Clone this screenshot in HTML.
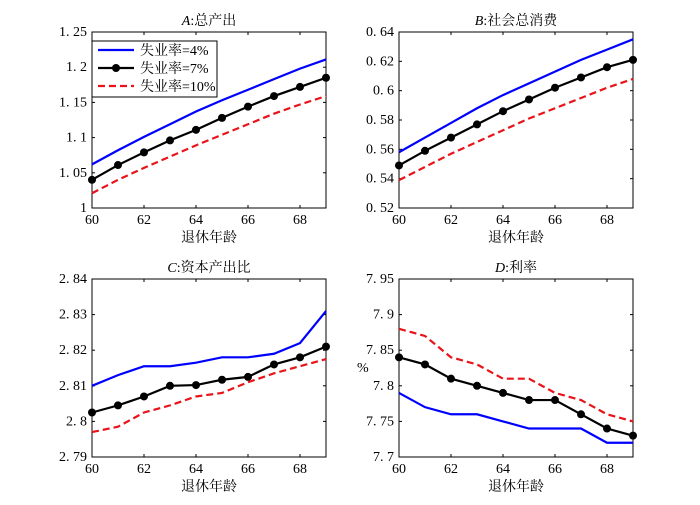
<!DOCTYPE html>
<html><head><meta charset="utf-8"><style>
body{margin:0;background:#fff}
svg text{font-family:"Liberation Serif","Noto Serif CJK SC",serif;font-size:14px;fill:#000}
</style></head><body>
<svg id="chart" width="700" height="500" xmlns="http://www.w3.org/2000/svg"></svg>
<script>
const ages=[60,61,62,63,64,65,66,67,68,69];
const xTicks=[60,62,64,66,68];
const aBlue=[1.062,1.082,1.101,1.119,1.137,1.153,1.168,1.183,1.198,1.211];
const aBlack=[1.040,1.061,1.079,1.096,1.111,1.128,1.144,1.159,1.172,1.185];
const aRed=[1.021,1.040,1.057,1.073,1.089,1.104,1.119,1.134,1.147,1.159];
const aTicks=["1","1.05","1.1","1.15","1.2","1.25"];
const bBlue=[0.558,0.568,0.578,0.588,0.597,0.605,0.613,0.621,0.628,0.635];
const bBlack=[0.549,0.559,0.568,0.577,0.586,0.594,0.602,0.609,0.616,0.621];
const bRed=[0.539,0.548,0.557,0.565,0.573,0.581,0.588,0.595,0.602,0.608];
const bTicks=["0.52","0.54","0.56","0.58","0.6","0.62","0.64"];
const cBlue=[2.810,2.813,2.8155,2.8155,2.8165,2.818,2.818,2.819,2.822,2.831];
const cBlack=[2.8025,2.8045,2.807,2.810,2.8102,2.8117,2.8125,2.816,2.818,2.821];
const cRed=[2.797,2.7985,2.8025,2.8045,2.807,2.808,2.811,2.8135,2.8155,2.8175];
const cTicks=["2.79","2.8","2.81","2.82","2.83","2.84"];
const dBlue=[7.79,7.77,7.76,7.76,7.75,7.74,7.74,7.74,7.72,7.72];
const dBlack=[7.84,7.83,7.81,7.80,7.79,7.78,7.78,7.76,7.74,7.73];
const dRed=[7.88,7.87,7.84,7.83,7.81,7.81,7.79,7.78,7.76,7.75];
const dTicks=["7.7","7.75","7.8","7.85","7.9","7.95"];
const NS="http://www.w3.org/2000/svg";
const svg=document.getElementById('chart');
function mk(t,a,p){const e=document.createElementNS(NS,t);for(const k in a)e.setAttribute(k,a[k]);(p||svg).appendChild(e);return e;}
function fmt(s){return s.replace('.', '. ');}
function panel(id,L,T,R,B,ticks,blue,black,red,title,ylab){
  const g=mk('g',{});
  
  
  const y0=parseFloat(ticks[0]),y1=parseFloat(ticks[ticks.length-1]);
  const xs=v=>L+(v-60)/9*(R-L);
  const ys=v=>B-(v-y0)/(y1-y0)*(B-T);
  mk('rect',{x:L,y:T,width:R-L,height:B-T,fill:'#fff',stroke:'#000','stroke-width':1},g);
  ticks.forEach(t=>{const y=ys(parseFloat(t));
    mk('line',{x1:L,x2:L+3,y1:y,y2:y,stroke:'#000'},g);mk('line',{x1:R,x2:R-3,y1:y,y2:y,stroke:'#000'},g);
    const tx=mk('text',{x:L-5,y:y+4,'text-anchor':'end'},g);tx.textContent=fmt(t);
    });
  xTicks.forEach(t=>{const x=xs(t);
    mk('line',{x1:x,x2:x,y1:B,y2:B-3,stroke:'#000'},g);mk('line',{x1:x,x2:x,y1:T,y2:T+3,stroke:'#000'},g);
    const tx=mk('text',{x:x,y:B+16,'text-anchor':'middle'},g);tx.textContent=t;
    });
  const xl=mk('text',{x:(L+R)/2,y:B+34,'text-anchor':'middle'},g);xl.textContent='退休年龄';
  
  const tl=mk('text',{x:(L+R)/2,y:T-7,'text-anchor':'middle'},g);
  tl.innerHTML='<tspan font-style="italic">'+title[0]+'</tspan>:'+title[1];
  
  if(ylab){const yl=mk('text',{x:L-42,y:(T+B)/2+4},g);yl.textContent=ylab;
    }
  const pts=a=>a.map((v,i)=>xs(ages[i])+','+ys(v)).join(' ');
  const l1=mk('polyline',{points:pts(blue),fill:'none',stroke:'#0000ff','stroke-width':2.2},g);
  
  const l3=mk('polyline',{points:pts(red),fill:'none',stroke:'#e8141a','stroke-width':2.2,'stroke-dasharray':'7,4'},g);
  
  const l2=mk('polyline',{points:pts(black),fill:'none',stroke:'#000','stroke-width':2.2},g);
  
  black.forEach((v,i)=>{const c=mk('circle',{cx:xs(ages[i]),cy:ys(v),r:4,fill:'#000'},g);
    });
  return g;
}
panel('a',92,32,326,208,aTicks,aBlue,aBlack,aRed,['A','总产出'],null);
panel('b',399,32,633,208,bTicks,bBlue,bBlack,bRed,['B','社会总消费'],null);
panel('c',92,279,326,457,cTicks,cBlue,cBlack,cRed,['C','资本产出比'],null);
panel('d',399,279,633,457,dTicks,dBlue,dBlack,dRed,['D','利率'],'%');
const lg=mk('g',{});


mk('rect',{x:92,y:41,width:125,height:56,fill:'#fff',stroke:'#000'},lg);
const items=[['#0000ff','','失业率=4%'],['#000','','失业率=7%'],['#e8141a','7,4','失业率=10%']];
items.forEach((it,i)=>{const y=50+i*18;
  const e=mk('g',{},lg);
  
  
  const ln=mk('line',{x1:98,x2:134,y1:y,y2:y,stroke:it[0],'stroke-width':2.2},e);
  if(it[1])ln.setAttribute('stroke-dasharray',it[1]);
  if(i==1)mk('circle',{cx:116,cy:y,r:4,fill:'#000'},e);
  const t=mk('text',{x:140,y:y+5},e);t.textContent=it[2];});
</script>
</body></html>
